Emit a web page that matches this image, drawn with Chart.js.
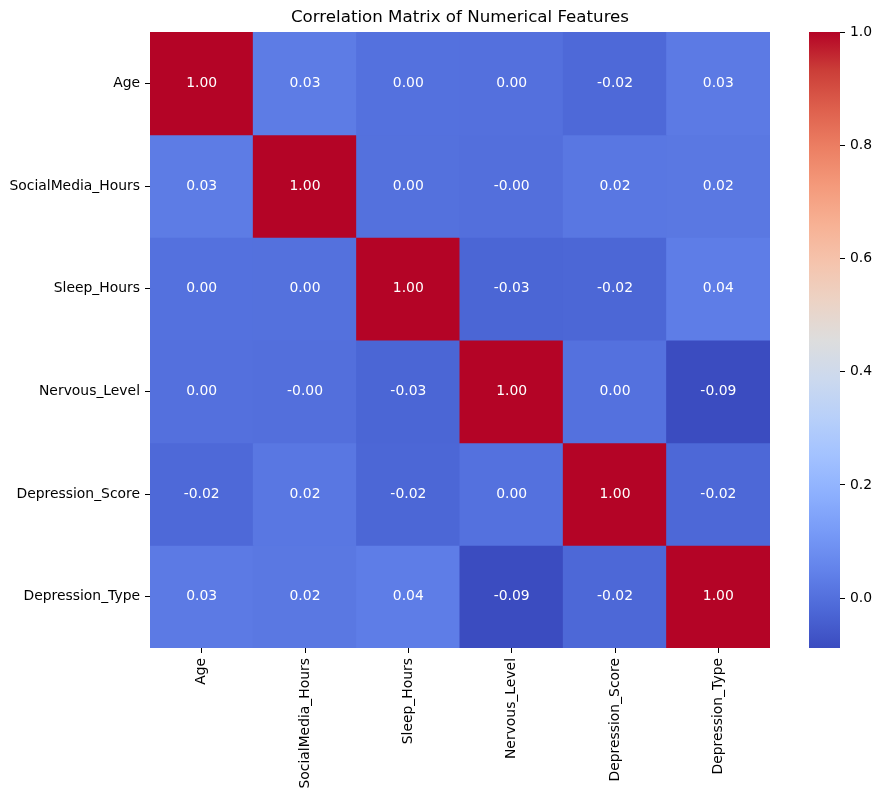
<!DOCTYPE html>
<html>
<head>
<meta charset="utf-8">
<script src="https://cdn.jsdelivr.net/npm/chart.js@4"></script>
<style>
  body { margin: 0; background: #fff; }
  #wrap { position: relative; width: 881px; height: 798px; }
  #heat { position: absolute; left: 0; top: 0; }
  #cbar { position: absolute; left: 780px; top: 0; }
</style>
</head>
<body>
<div id="wrap">
  <canvas id="heat" width="881" height="798"></canvas>
  <canvas id="cbar" width="101" height="798"></canvas>
</div>
<script>
// feature names (same for rows and columns)
const features = ['Age', 'SocialMedia_Hours', 'Sleep_Hours', 'Nervous_Level', 'Depression_Score', 'Depression_Type'];

// correlation rows
const ageRow      = [1.00, 0.031, 0.004, 0.002, -0.018, 0.027];
const socialRow   = [0.031, 1.00, 0.003, -0.002, 0.018, 0.021];
const sleepRow    = [0.004, 0.003, 1.00, -0.026, -0.022, 0.036];
const nervousRow  = [0.002, -0.002, -0.026, 1.00, 0.004, -0.088];
const depScoreRow = [-0.018, 0.018, -0.022, 0.004, 1.00, -0.019];
const depTypeRow  = [0.027, 0.021, 0.036, -0.088, -0.019, 1.00];
const matrix = [ageRow, socialRow, sleepRow, nervousRow, depScoreRow, depTypeRow];

// colour scale limits and colorbar ticks
const vmin = -0.088;
const vmax = 1.0;
const cbTicks = [0.0, 0.2, 0.4, 0.6, 0.8, 1.0];

// coolwarm colormap, sampled every 1/16
const coolwarm = [
  [59,76,192], [77,104,215], [98,130,234], [119,154,247], [141,176,254],
  [163,194,255], [184,208,249], [204,217,238], [221,221,221], [236,211,197],
  [245,196,173], [247,177,148], [244,154,123], [236,127,99], [222,96,77],
  [203,62,56], [180,4,38]
];

function colorAt(t) {
  t = Math.max(0, Math.min(1, t));
  const pos = t * (coolwarm.length - 1);
  const i = Math.min(Math.floor(pos), coolwarm.length - 2);
  const f = pos - i;
  const a = coolwarm[i], b = coolwarm[i + 1];
  const c = a.map((v, k) => Math.round(v + (b[k] - v) * f));
  return `rgb(${c[0]},${c[1]},${c[2]})`;
}
function valueColor(v) {
  return colorAt((v - vmin) / (vmax - vmin));
}

const FONT = 'DejaVu Sans';

// one floating-bar dataset per row, each bar spans [row, row+1]
const datasets = matrix.map((row, r) => ({
  data: row.map(() => [r, r + 1]),
  backgroundColor: row.map(v => valueColor(v)),
  borderWidth: 0,
  inflateAmount: 0.5,
  barPercentage: 1,
  categoryPercentage: 1,
  grouped: false
}));

// write the value in each cell
const cellText = {
  id: 'cellText',
  afterDatasetsDraw(chart) {
    const ctx = chart.ctx;
    ctx.save();
    ctx.font = `13.9px "${FONT}"`;
    ctx.fillStyle = '#ffffff';
    ctx.textAlign = 'center';
    ctx.textBaseline = 'middle';
    chart.data.datasets.forEach((ds, r) => {
      const meta = chart.getDatasetMeta(r);
      meta.data.forEach((el, c) => {
        ctx.fillText(matrix[r][c].toFixed(2), el.x, (el.y + el.base) / 2);
      });
    });
    ctx.restore();
  }
};

new Chart(document.getElementById('heat'), {
  type: 'bar',
  data: { labels: features, datasets: datasets },
  plugins: [cellText],
  options: {
    responsive: false,
    animation: false,
    layout: { padding: { left: 0, right: 111, top: 0, bottom: 0 } },
    plugins: {
      legend: { display: false },
      tooltip: { enabled: false },
      title: {
        display: true,
        text: 'Correlation Matrix of Numerical Features',
        color: '#000',
        fullSize: false,
        font: { family: FONT, size: 16.67, weight: 'normal' },
        padding: { top: 8, bottom: 4 }
      }
    },
    scales: {
      x: {
        type: 'category',
        border: { display: false },
        grid: { display: true, offset: false, drawOnChartArea: false, drawTicks: true, tickLength: 5, color: '#000' },
        ticks: { color: '#000', font: { family: FONT, size: 13.9 }, minRotation: 90, maxRotation: 90, padding: 5, autoSkip: false },
        afterFit: axis => { axis.height = 150; }
      },
      y: {
        type: 'linear',
        min: 0,
        max: features.length,
        reverse: true,
        border: { display: false },
        grid: { display: true, drawOnChartArea: false, drawTicks: true, tickLength: 5, color: '#000' },
        afterBuildTicks: axis => { axis.ticks = features.map((f, i) => ({ value: i + 0.5 })); },
        ticks: {
          color: '#000',
          font: { family: FONT, size: 13.9 },
          padding: 5,
          autoSkip: false,
          callback: value => features[Math.floor(value)]
        },
        afterFit: axis => { axis.width = 150; }
      }
    }
  }
});

// colorbar: one floating bar from vmin to vmax filled with the colormap
new Chart(document.getElementById('cbar'), {
  type: 'bar',
  data: {
    labels: [''],
    datasets: [{
      data: [[vmin, vmax]],
      borderWidth: 0,
      barPercentage: 1,
      categoryPercentage: 1,
      backgroundColor: context => {
        const area = context.chart.chartArea;
        if (!area) return '#888';
        const g = context.chart.ctx.createLinearGradient(0, area.bottom, 0, area.top);
        coolwarm.forEach((c, i) => g.addColorStop(i / (coolwarm.length - 1), `rgb(${c[0]},${c[1]},${c[2]})`));
        return g;
      }
    }]
  },
  options: {
    responsive: false,
    animation: false,
    layout: { padding: { left: 29, right: 0, top: 32, bottom: 150 } },
    plugins: { legend: { display: false }, tooltip: { enabled: false } },
    scales: {
      x: { display: false },
      y: {
        position: 'right',
        min: vmin,
        max: vmax,
        border: { display: false },
        grid: { display: true, drawOnChartArea: false, drawTicks: true, tickLength: 5, color: '#000' },
        afterBuildTicks: axis => { axis.ticks = cbTicks.map(v => ({ value: v })); },
        ticks: {
          color: '#000',
          font: { family: FONT, size: 13.9 },
          padding: 5,
          callback: value => value.toFixed(1)
        },
        afterFit: axis => { axis.width = 41; }
      }
    }
  }
});
</script>
</body>
</html>
